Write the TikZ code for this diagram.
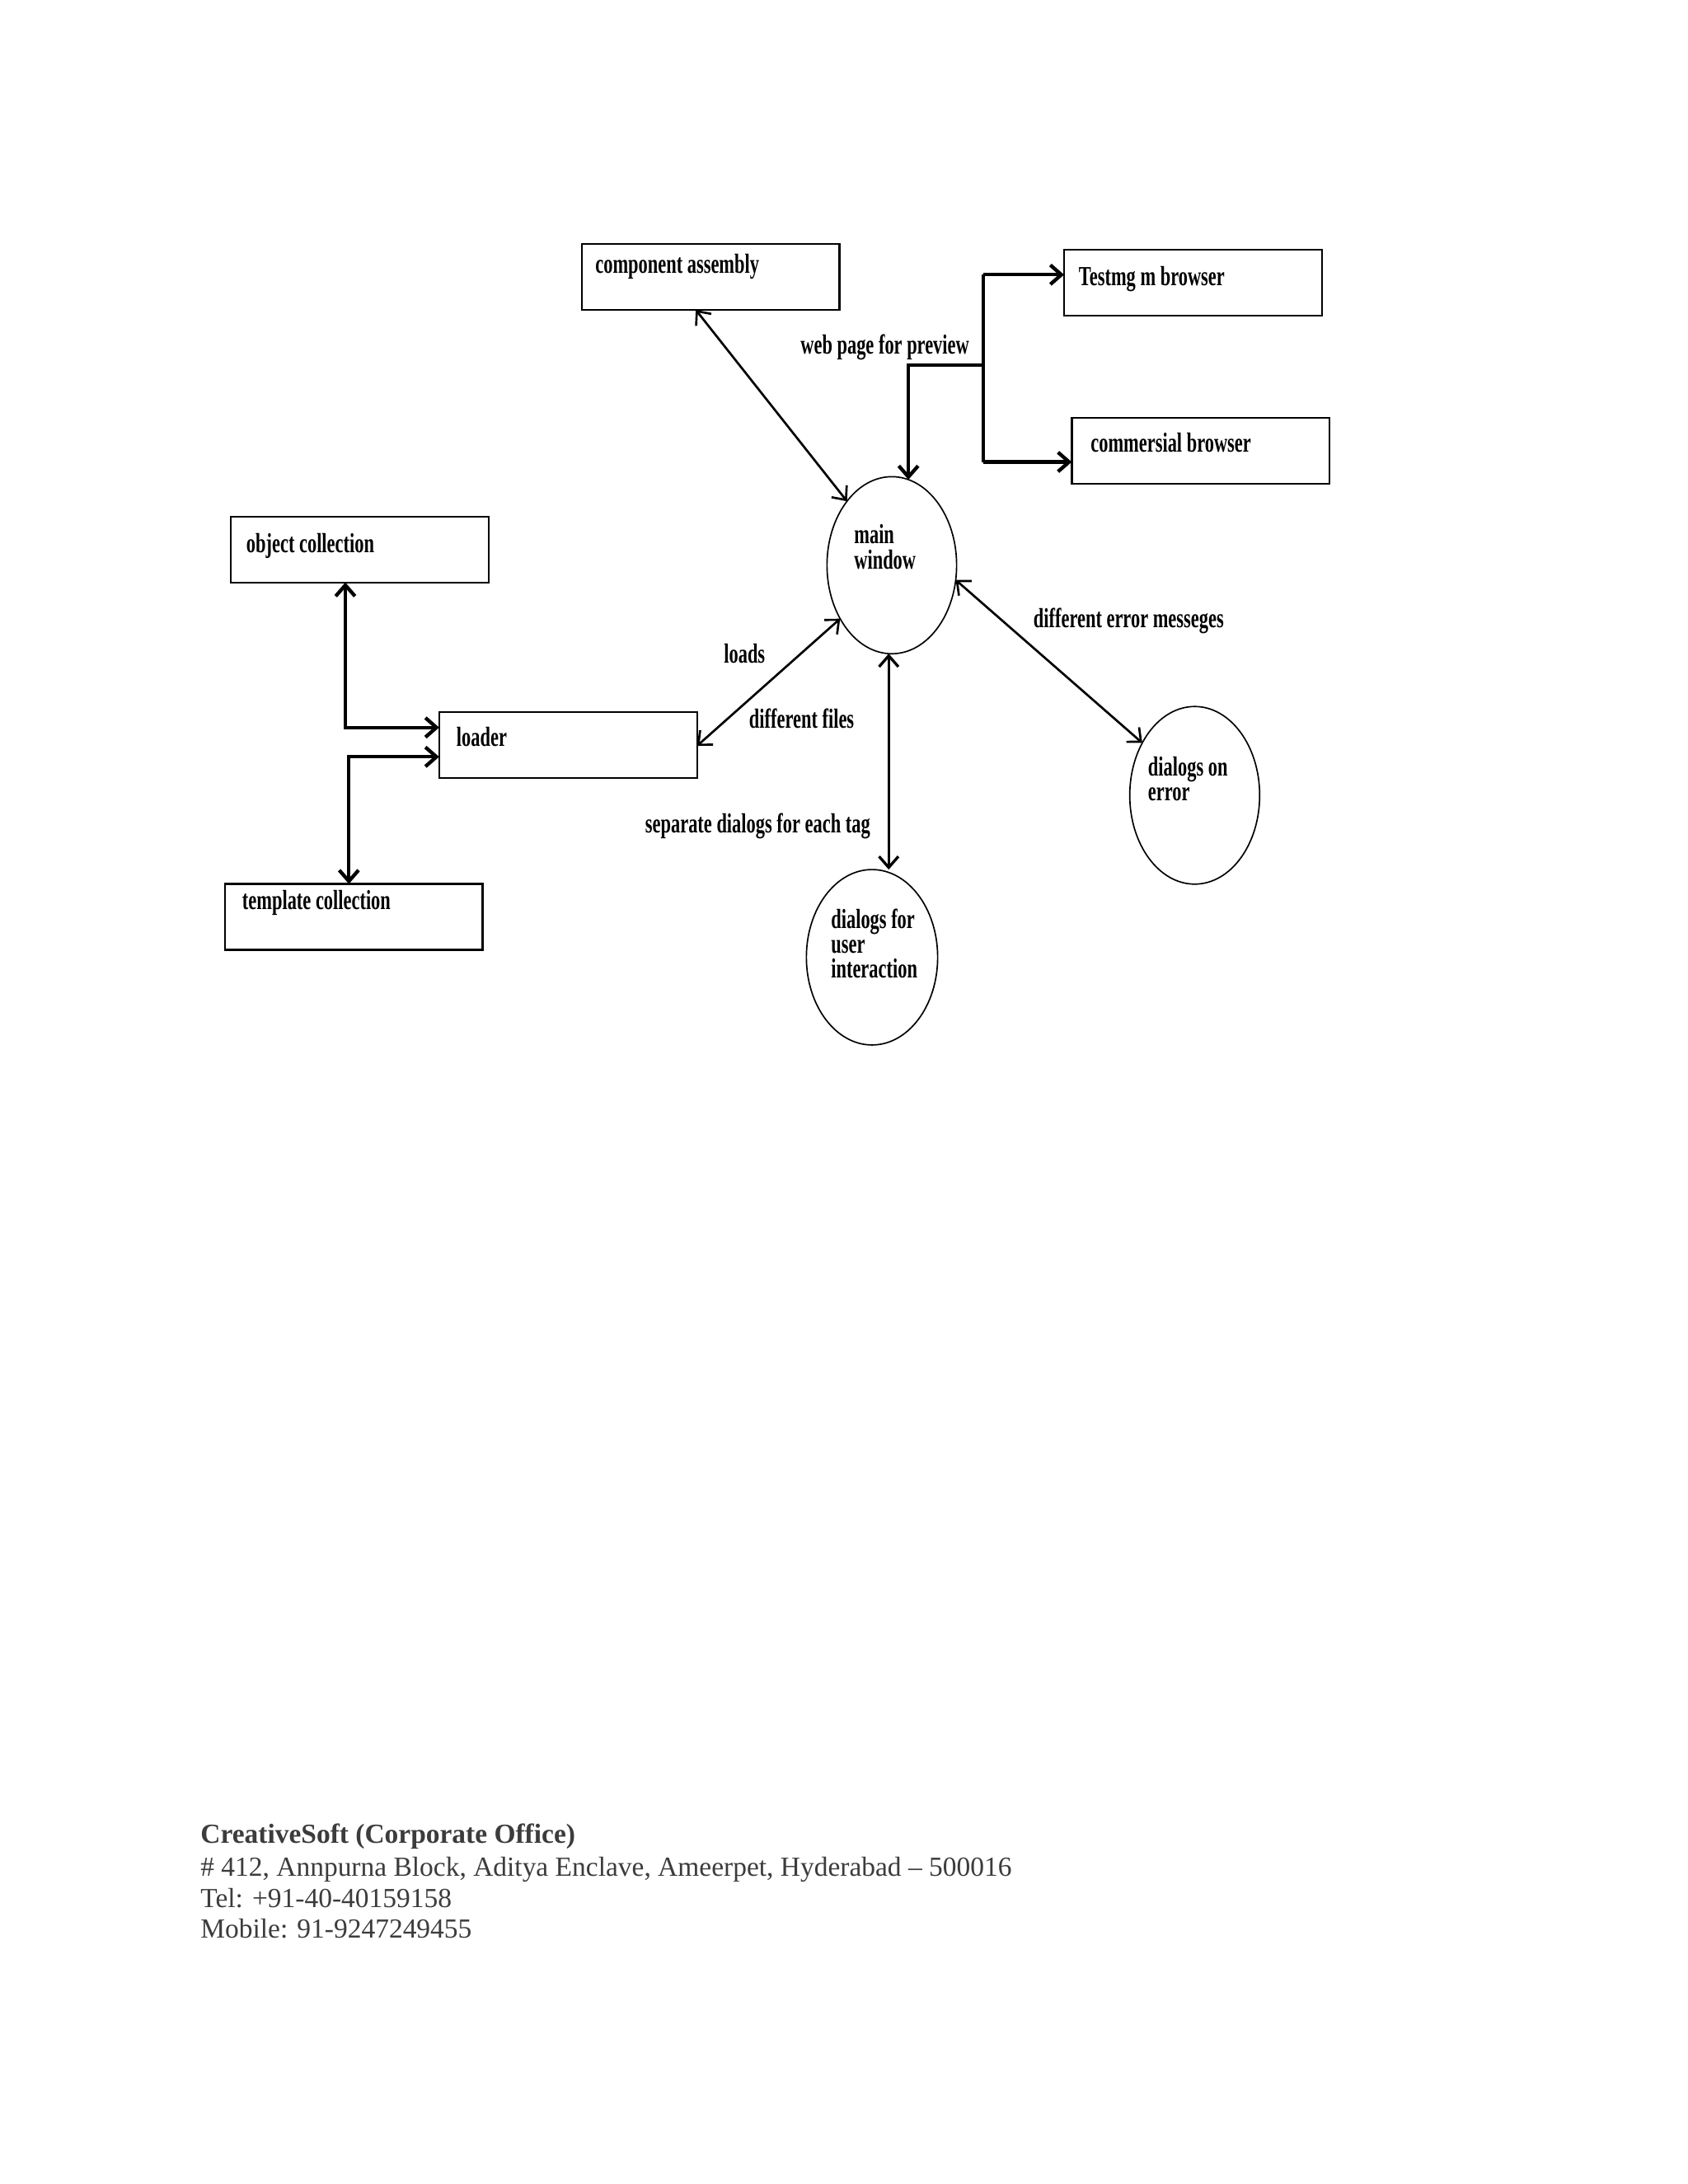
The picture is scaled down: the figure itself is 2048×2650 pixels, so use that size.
\documentclass[tikz,border=0pt]{standalone}
\usepackage{fontspec}
\setmainfont{Liberation Serif}
\newfontfamily\diagfont[FakeStretch=0.67,UprightFont={* Bold}]{Liberation Serif}
\usetikzlibrary{arrows.meta,shapes.geometric,calc}
\definecolor{foot}{HTML}{3C3C3C}
\begin{document}
\begin{tikzpicture}[x=0.298828pt,y=-0.298828pt,
  >={Straight Barb[length=4pt,width=7pt]},
  box/.style={draw, line width=0.7pt, rectangle, minimum width=93.5pt, minimum height=23.9pt, inner sep=0pt, outer sep=0pt},
  oval/.style={draw, line width=0.5pt, ellipse, inner sep=0pt, outer sep=0pt},
  lbl/.style={font=\diagfont\fontsize{10}{11}\selectfont, anchor=base west, inner sep=0pt},
  conn/.style={line width=0.8pt},
  heavy/.style={line width=1.3pt},
  midw/.style={line width=1pt},
  ftxt/.style={anchor=base west, inner sep=0pt, text=foot, font=\fontsize{10}{11.5}\selectfont}
]
\fill[white] (0,0) rectangle (2048,2650);
\useasboundingbox (0,0) rectangle (2048,2650);

% boxes
\node[box] (ca) at (862.2,336) {};
\node[box] (tb) at (1447.5,343.3) {};
\node[box] (cb) at (1456.8,546.8) {};
\node[box] (oc) at (436.7,666.7) {};
\node[box] (ld) at (689.3,904) {};
\node[box] (tc) at (429.2,1112.5) {};

% ellipses
\node[oval, minimum width=47.0pt, minimum height=64.2pt] (mw) at (1082,685.8) {};
\node[oval, minimum width=47.1pt, minimum height=64.4pt] (de) at (1449.5,965) {};
\node[oval, minimum width=47.6pt, minimum height=63.6pt] (du) at (1058,1161.5) {};

% node texts
\node[lbl] (tca) at (721.7,331) {component assembly};
\node[lbl] (ttb) at (1308.3,346) {Testmg m browser};
\node[lbl] (tcb) at (1322.7,548.3) {commersial browser};
\node[lbl] (toc) at (298.3,670) {object collection};
\node[lbl] (tld) at (553.3,905.7) {loader};
\node[lbl] (ttc) at (293.3,1103.3) {template collection};
\node[lbl] (tmw1) at (1035.7,659) {main};
\node[lbl] (tmw2) at (1035.7,690) {window};
\node[lbl] (tde1) at (1392.3,941.7) {dialogs on};
\node[lbl] (tde2) at (1392.3,971.7) {error};
\node[lbl] (tdu1) at (1007.7,1126.7) {dialogs for};
\node[lbl] (tdu2) at (1007.7,1156.7) {user};
\node[lbl] (tdu3) at (1007.7,1186.7) {interaction};

% connector labels
\node[lbl] (lweb) at (970.7,429.3) {web page for preview};
\node[lbl] (lloads) at (877.7,804.3) {loads};
\node[lbl] (lfiles) at (908.3,883.3) {different files};
\node[lbl] (lsep) at (782.3,1010) {separate dialogs for each tag};
\node[lbl] (lerr) at (1253.3,761.7) {different error messeges};

% connectors
\draw[conn,<->] ($(ca.south)+(-18,0)$) -- (mw.125);
\coordinate (j) at (1193.3,443.3);
\coordinate (jt) at (1193.3,333.3);
\coordinate (jb) at (1193.3,560.5);
\draw[heavy,->] (j) -| (mw.79);
\draw[heavy] (jt) -- (jb);
\draw[heavy,->] (jt) -- (jt -| tb.west);
\draw[heavy,->] (jb) -- (jb -| cb.west);
\coordinate (k1) at (419,882.7);
\draw[heavy,<->] (k1 |- oc.south) -- (k1) -- (k1 -| ld.west);
\coordinate (k2) at (423.3,918.3);
\draw[heavy,<->] (k2 -| ld.west) -- (k2) -- (k2 |- tc.north);
\draw[conn,<->] ($(ld.east)+(0,1)$) -- (mw.226);
\draw[midw,<->] (mw.268) -- (mw.268 |- du.north);
\draw[conn,<->] (mw.347) -- (de.135);

% footer
\node[ftxt, font=\bfseries\fontsize{10}{11.5}\selectfont] (f1) at (242.7,2236.7) {CreativeSoft (Corporate Office)};
\node[ftxt] (f2) at (242.7,2276.7) {\# 412, Annpurna Block, Aditya Enclave, Ameerpet, Hyderabad – 500016};
\node[ftxt] (f3) at (242.7,2314.3) {Tel: +91-40-40159158};
\node[ftxt] (f4) at (242.7,2351.7) {Mobile: 91-9247249455};
\end{tikzpicture}
\end{document}
